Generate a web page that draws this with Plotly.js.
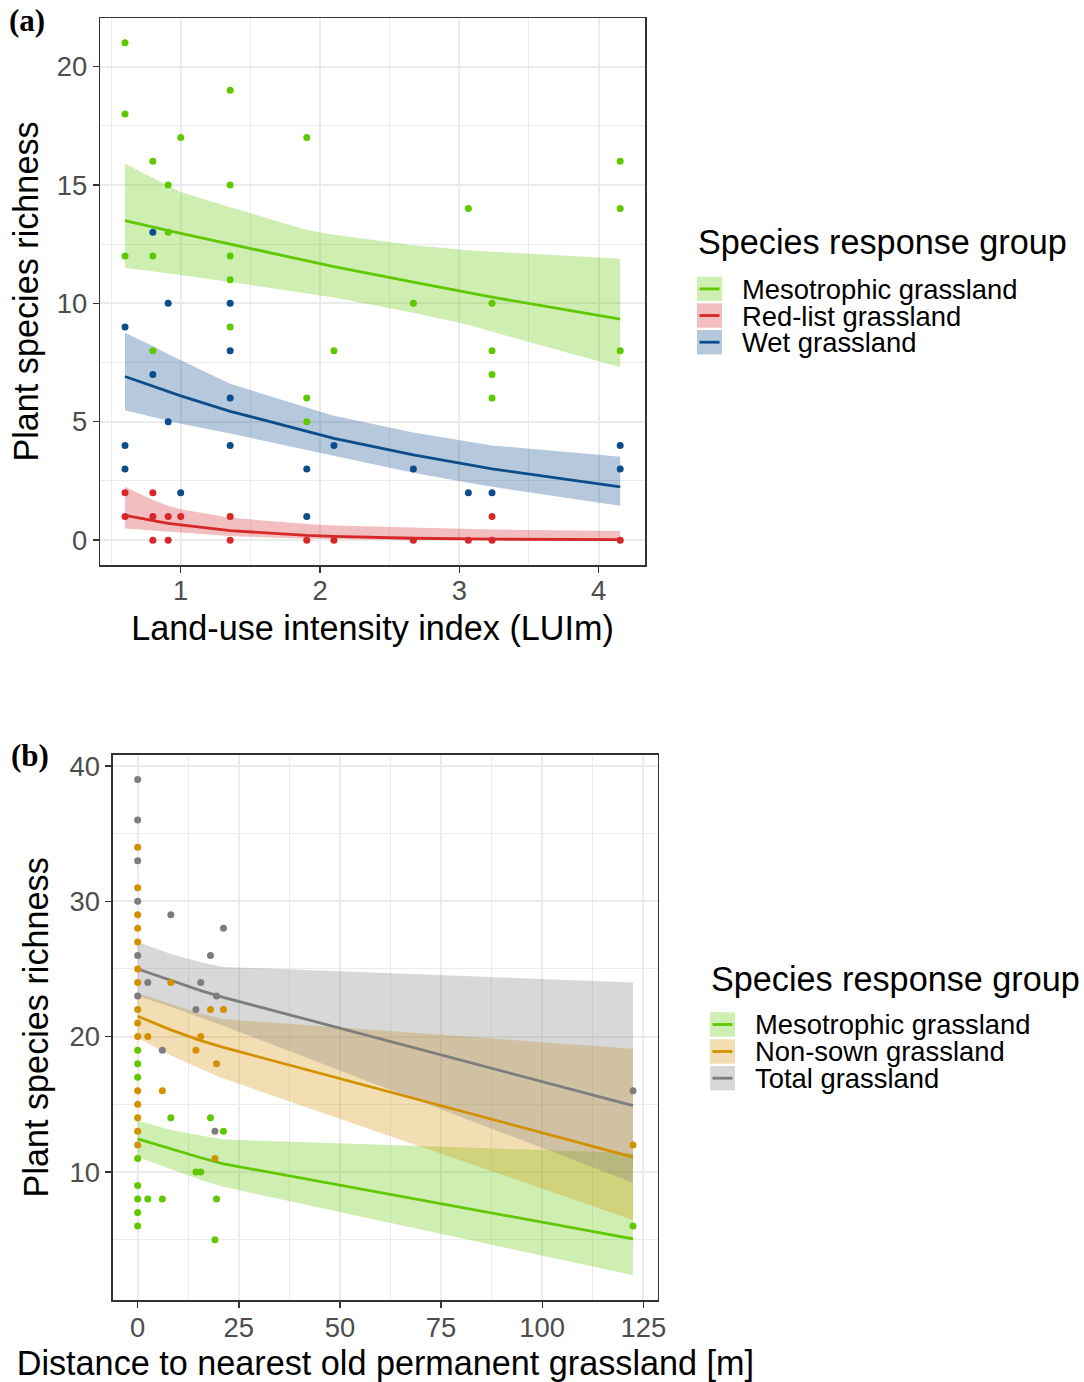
<!DOCTYPE html>
<html><head><meta charset="utf-8">
<script src="https://cdn.plot.ly/plotly-3.0.1.min.js"></script>
<style>html,body{margin:0;padding:0;background:#fff}#chart{width:1084px;height:1382px}</style>
</head><body><div id="chart"></div>
<script>
const FONT = '"Liberation Sans", Arial, Helvetica, sans-serif';

// ---------- Panel (a) data ----------
const aFitX    = [0.6, 0.8, 0.91, 1.0, 1.355, 1.905, 2.1, 2.67, 3.065, 3.235, 4.155];
const aMesoFit = [13.49, 13.22, 13.06, 12.95, 12.5, 11.8, 11.55, 10.9, 10.45, 10.26, 9.33];
const aMesoHi  = [15.9, 15.3, 14.95, 14.7, 14.06, 13.1, 12.9, 12.45, 12.24, 12.18, 11.88];
const aMesoLo  = [11.5, 11.35, 11.25, 11.2, 10.9, 10.4, 10.25, 9.6, 9.1, 8.8, 7.3];
const aRedFit  = [1.05, 0.82, 0.71, 0.64, 0.40, 0.20, 0.16, 0.08, 0.05, 0.04, 0.02];
const aRedHi   = [2.25, 1.7, 1.45, 1.3, 0.95, 0.68, 0.62, 0.52, 0.47, 0.45, 0.39];
const aRedLo   = [0.49, 0.40, 0.35, 0.31, 0.17, 0.06, 0.04, 0.01, 0.005, 0.003, 0.0];
const aWetFit  = [6.91, 6.5, 6.27, 6.09, 5.44, 4.58, 4.3, 3.6, 3.18, 3.01, 2.25];
const aWetHi   = [8.76, 8.2, 7.85, 7.6, 6.6, 5.6, 5.25, 4.55, 4.15, 4.0, 3.52];
const aWetLo   = [5.49, 5.2, 5.05, 4.92, 4.5, 3.8, 3.55, 2.85, 2.42, 2.25, 1.45];

const aMesoPtX = [0.6,0.6,0.6, 0.8,0.8,0.8, 0.91,0.91, 1.0, 1.355,1.355,1.355,1.355,1.355, 1.905,1.905,1.905, 2.1, 2.67, 3.065, 3.235,3.235,3.235,3.235, 4.155,4.155,4.155];
const aMesoPtY = [21,18,12, 16,12,8, 15,13, 17, 19,15,12,11,9, 17,6,5, 8, 10, 14, 10,8,7,6, 16,14,8];
const aWetPtX  = [0.6,0.6,0.6, 0.8,0.8, 0.91,0.91, 1.0, 1.355,1.355,1.355,1.355, 1.905,1.905, 2.1, 2.67, 3.065, 3.235, 4.155,4.155];
const aWetPtY  = [9,4,3, 13,7, 10,5, 2, 10,8,6,4, 3,1, 4, 3, 2, 2, 4,3];
const aRedPtX  = [0.6,0.6, 0.8,0.8,0.8, 0.91,0.91, 1.0, 1.355,1.355, 1.905, 2.1, 2.67, 3.065, 3.235,3.235, 4.155];
const aRedPtY  = [2,1, 2,1,0, 1,0, 1, 1,0, 0, 0, 0, 0, 1,0, 0];
const aGroups  = ['Mesotrophic grassland', 'Red-list grassland', 'Wet grassland'];

// ---------- Panel (b) data ----------
const bFitX    = [0, 8.2, 15.6, 21.2, 122.45];
const bMesoFit = [12.45, 11.7, 11.05, 10.6, 5.06];
const bMesoHi  = [13.8, 13.1, 12.7, 12.4, 11.4];
const bMesoLo  = [11.1, 10.2, 9.4, 8.9, 2.37];
const bNonFit  = [21.5, 20.5, 19.7, 19.2, 11.1];
const bNonHi   = [23.2, 22.4, 21.7, 21.3, 19.1];
const bNonLo   = [19.9, 18.6, 17.6, 16.9, 6.45];
const bTotFit  = [25.0, 24.15, 23.4, 22.9, 14.9];
const bTotHi   = [27.0, 26.1, 25.5, 25.15, 24.0];
const bTotLo   = [23.0, 22.2, 21.4, 20.8, 9.2];

const bMesoPtX = [0,0,0,0,0,0,0,0, 8.2, 18.0, 21.2, 14.4, 15.6, 2.5, 6.1, 19.5, 19.1, 122.45];
const bMesoPtY = [19,18,17,11,9,8,7,6, 14, 14, 13, 10, 10, 8, 8, 8, 5, 6];
const bNonPtX  = [0,0,0,0,0,0,0,0,0,0,0,0,0,0,0, 8.2, 18.0, 21.2, 2.5, 15.6, 14.4, 19.5, 6.1, 19.1, 122.45];
const bNonPtY  = [34,31,29,28,27,25,24,22,21,20,16,15,14,13,12, 24, 22, 22, 20, 20, 19, 18, 16, 11, 12];
const bTotPtX  = [0,0,0,0,0,0, 8.2, 21.2, 18.0, 2.5, 15.6, 19.5, 14.4, 6.1, 19.1, 122.45];
const bTotPtY  = [39,36,33,30,26,23, 29, 28, 26, 24, 24, 23, 22, 19, 13, 16];
const bGroups  = ['Mesotrophic grassland', 'Non-sown grassland', 'Total grassland'];

// ---------- colours ----------
const C = {
  green: [96, 200, 0],
  red:   [214, 40, 42],
  blue:  [12, 76, 138],
  orange:[211, 145, 0],
  grey:  [125, 125, 125]
};
const solid = c => `rgb(${c[0]},${c[1]},${c[2]})`;
const alpha = c => `rgba(${c[0]},${c[1]},${c[2]},0.3)`;

function band(x, lo, hi, c, xa, ya) {
  return [
    {x: x, y: lo, type: 'scatter', mode: 'lines', line: {width: 0, color: alpha(c)}, xaxis: xa, yaxis: ya, showlegend: false, hoverinfo: 'skip'},
    {x: x, y: hi, type: 'scatter', mode: 'lines', fill: 'tonexty', fillcolor: alpha(c), line: {width: 0, color: alpha(c)}, xaxis: xa, yaxis: ya, showlegend: false, hoverinfo: 'skip'}
  ];
}
function fit(x, y, c, xa, ya, name) {
  return {x: x, y: y, type: 'scatter', mode: 'lines', line: {width: 2.8, color: solid(c)}, xaxis: xa, yaxis: ya, showlegend: false, name: name};
}
function pts(x, y, c, xa, ya, name) {
  return {x: x, y: y, type: 'scatter', mode: 'markers', marker: {size: 7, color: solid(c)}, xaxis: xa, yaxis: ya, showlegend: false, name: name, cliponaxis: false};
}

const data = [].concat(
  band(aFitX, aMesoLo, aMesoHi, C.green, 'x', 'y'),
  band(aFitX, aRedLo, aRedHi, C.red, 'x', 'y'),
  band(aFitX, aWetLo, aWetHi, C.blue, 'x', 'y'),
  [fit(aFitX, aMesoFit, C.green, 'x', 'y', aGroups[0]),
   fit(aFitX, aRedFit, C.red, 'x', 'y', aGroups[1]),
   fit(aFitX, aWetFit, C.blue, 'x', 'y', aGroups[2]),
   pts(aMesoPtX, aMesoPtY, C.green, 'x', 'y', aGroups[0]),
   pts(aRedPtX, aRedPtY, C.red, 'x', 'y', aGroups[1]),
   pts(aWetPtX, aWetPtY, C.blue, 'x', 'y', aGroups[2])],
  band(bFitX, bMesoLo, bMesoHi, C.green, 'x2', 'y2'),
  band(bFitX, bNonLo, bNonHi, C.orange, 'x2', 'y2'),
  band(bFitX, bTotLo, bTotHi, C.grey, 'x2', 'y2'),
  [fit(bFitX, bMesoFit, C.green, 'x2', 'y2', bGroups[0]),
   fit(bFitX, bNonFit, C.orange, 'x2', 'y2', bGroups[1]),
   fit(bFitX, bTotFit, C.grey, 'x2', 'y2', bGroups[2]),
   pts(bMesoPtX, bMesoPtY, C.green, 'x2', 'y2', bGroups[0]),
   pts(bNonPtX, bNonPtY, C.orange, 'x2', 'y2', bGroups[1]),
   pts(bTotPtX, bTotPtY, C.grey, 'x2', 'y2', bGroups[2])]
);

// ---------- layout helpers ----------
const W = 1084, H = 1382;
const px = x => x / W;
const py = y => 1 - y / H;

function axis(extra) {
  return Object.assign({
    showline: true, linecolor: '#333333', linewidth: 1.5, mirror: true,
    ticks: 'outside', ticklen: 6, tickwidth: 1.4, tickcolor: '#333333',
    showgrid: true, gridcolor: '#EBEBEB', gridwidth: 2,
    zeroline: false, automargin: false, fixedrange: true,
    tickfont: {family: FONT, size: 27.4, color: '#4D4D4D'},
    tickmode: 'linear'
  }, extra);
}
const titleFont = {family: FONT, size: 34.2, color: '#000000'};

const shapes = [], annotations = [];
// Legend: key squares + one multi-line label block (line pitch 26.7 px, label size 27.4 px)
function legend(titleX, titleY, keyX, textX, keyTops, labels, cols) {
  annotations.push({xref: 'paper', yref: 'paper', x: px(titleX), y: py(titleY), xanchor: 'left', yanchor: 'middle',
    text: 'Species response group', showarrow: false, font: titleFont});
  keyTops.forEach((t, i) => {
    shapes.push({type: 'rect', xref: 'paper', yref: 'paper', x0: px(keyX), x1: px(keyX + 25), y0: py(t), y1: py(t + 24.4),
      fillcolor: alpha(cols[i]), line: {width: 0}, layer: 'above'});
    shapes.push({type: 'line', xref: 'paper', yref: 'paper', x0: px(keyX + 2.5), x1: px(keyX + 22.5), y0: py(t + 12.2), y1: py(t + 12.2),
      line: {width: 2.8, color: solid(cols[i])}, layer: 'above'});
  });
  const pitch = keyTops[1] - keyTops[0];
  annotations.push({xref: 'paper', yref: 'paper', x: px(textX), y: py(keyTops[1] + 12.2), xanchor: 'left', yanchor: 'middle',
    align: 'left', showarrow: false,
    text: labels.map(l => '<span style="font-size:27.4px">' + l + '</span>').join('<br>'),
    font: {family: FONT, size: pitch / 1.3, color: '#000000'}});
}
legend(696, 242.5, 697, 740, [276.7, 303.3, 330], aGroups, [C.green, C.red, C.blue]);
legend(709, 979, 710, 753, [1012.3, 1039.3, 1066], bGroups, [C.green, C.orange, C.grey]);

annotations.push({xref: 'paper', yref: 'paper', x: px(7), y: py(20), xanchor: 'left', yanchor: 'middle',
  text: '<b>(a)</b>', showarrow: false, font: {family: '"Liberation Serif", "Times New Roman", serif', size: 31, color: '#000'}});
annotations.push({xref: 'paper', yref: 'paper', x: px(9), y: py(755), xanchor: 'left', yanchor: 'middle',
  text: '<b>(b)</b>', showarrow: false, font: {family: '"Liberation Serif", "Times New Roman", serif', size: 31, color: '#000'}});

const layout = {
  width: W, height: H,
  margin: {l: 0, r: 0, t: 0, b: 0},
  paper_bgcolor: '#ffffff', plot_bgcolor: '#ffffff',
  showlegend: false,
  font: {family: FONT},
  xaxis: axis({domain: [px(100.2), px(645)], range: [0.422, 4.333], tick0: 0, dtick: 1, anchor: 'y',
    ticklabelstandoff: -5,
    minor: {tick0: 0, dtick: 0.5, showgrid: true, gridcolor: '#EBEBEB', gridwidth: 1, ticks: ''},
    title: {text: 'Land-use intensity index (LUIm)', font: titleFont, standoff: 10}}),
  yaxis: axis({domain: [py(565), py(18)], range: [-1.05, 22.05], tick0: 0, dtick: 5, anchor: 'x',
    minor: {tick0: 0, dtick: 2.5, showgrid: true, gridcolor: '#EBEBEB', gridwidth: 1, ticks: ''},
    title: {text: 'Plant species richness', font: titleFont, standoff: 8}}),
  xaxis2: axis({domain: [px(112.9), px(657.9)], range: [-6.125, 128.6], tick0: 0, dtick: 25, anchor: 'y2',
    ticklabelstandoff: -3,
    minor: {tick0: 0, dtick: 12.5, showgrid: true, gridcolor: '#EBEBEB', gridwidth: 1, ticks: ''},
    title: {text: 'Distance to nearest old permanent grassland [m]', font: titleFont, standoff: 9}}),
  yaxis2: axis({domain: [py(1300), py(754.7)], range: [0.54, 40.83], tick0: 0, dtick: 10, anchor: 'x2',
    minor: {tick0: 0, dtick: 5, showgrid: true, gridcolor: '#EBEBEB', gridwidth: 1, ticks: ''},
    title: {text: 'Plant species richness', font: titleFont, standoff: 10}}),
  shapes: shapes,
  annotations: annotations
};

Plotly.newPlot('chart', data, layout, {displayModeBar: false, staticPlot: true});
</script></body></html>
